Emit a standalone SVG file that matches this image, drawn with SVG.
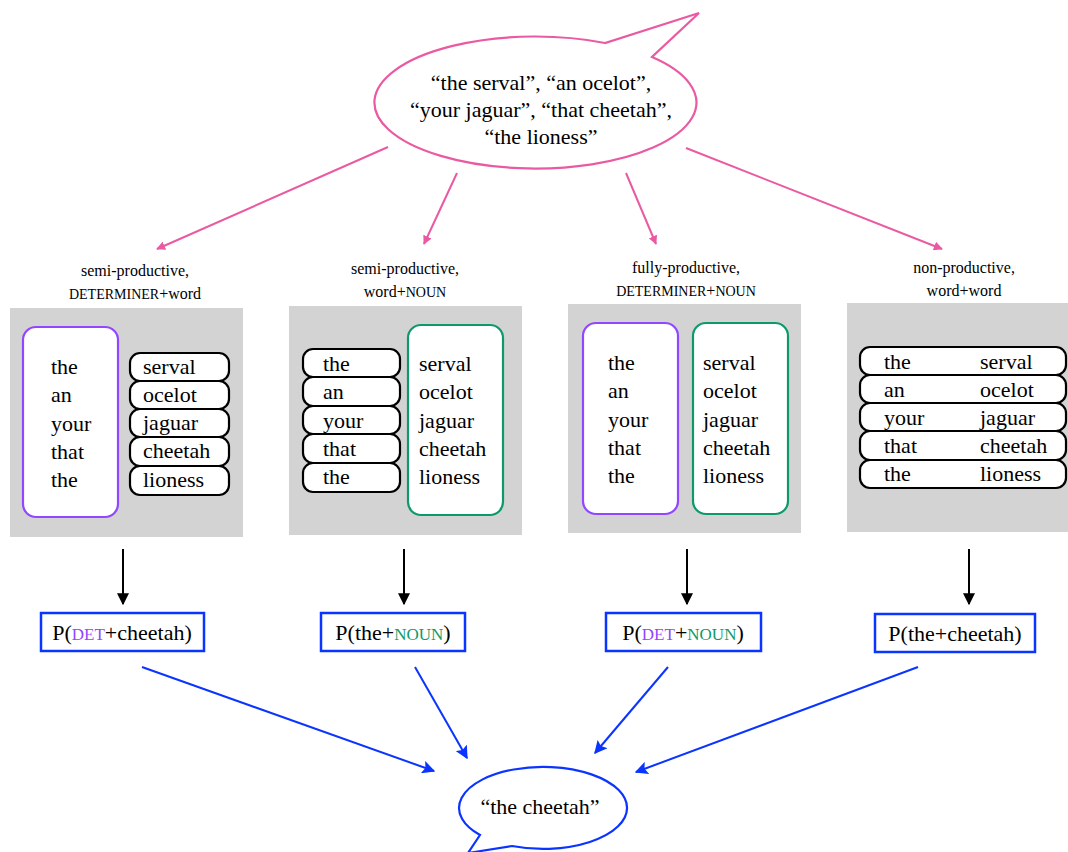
<svg xmlns="http://www.w3.org/2000/svg" width="1068" height="852" viewBox="0 0 1068 852" font-family="'Liberation Serif', 'DejaVu Serif', serif">
<style>
text{font-family:"Liberation Serif","DejaVu Serif",serif;fill:#000}
.t{font-size:22px}
.h{font-size:16px;text-anchor:middle}
.sc{font-size:14px}
.psc{font-size:17px}
.panel{fill:#d3d3d3}
.pill{fill:#fff;stroke:#000;stroke-width:2.2}
.pbox{fill:#fff;stroke:#9146ff;stroke-width:2.2}
.gbox{fill:#fff;stroke:#0e9a68;stroke-width:2.2}
.bbox{fill:#fff;stroke:#0a34ff;stroke-width:2.5}
.pink{stroke:#ea5aa2;stroke-width:2;fill:none}
.blk{stroke:#000;stroke-width:2;fill:none}
.blu{stroke:#0a34ff;stroke-width:2;fill:none}
</style>
<defs>
<marker id="ap" viewBox="0 0 10 10" refX="9" refY="5" markerWidth="9" markerHeight="9" orient="auto" markerUnits="userSpaceOnUse"><path d="M0,0 L10,5 L0,10 Z" fill="#ea5aa2"/></marker>
<marker id="ak" viewBox="0 0 10 10" refX="9" refY="5" markerWidth="12" markerHeight="12" orient="auto" markerUnits="userSpaceOnUse"><path d="M0,0 L10,5 L0,10 Z" fill="#000"/></marker>
<marker id="ab" viewBox="0 0 10 10" refX="9" refY="5" markerWidth="13" markerHeight="13" orient="auto" markerUnits="userSpaceOnUse"><path d="M0,0 L10,5 L0,10 L2,5 Z" fill="#0a34ff"/></marker>
</defs>
<rect width="1068" height="852" fill="#fff"/>

<g id="source">
<path d="M605,43 A161,66 0 1 0 652,57 L699,13 Z" fill="#fff" stroke="#ea5aa2" stroke-width="2.2" stroke-linejoin="miter"/>
<text class="t" x="541" y="90" text-anchor="middle">“the serval”, “an ocelot”,</text>
<text class="t" x="541" y="117" text-anchor="middle">“your jaguar”, “that cheetah”,</text>
<text class="t" x="541" y="144" text-anchor="middle">“the lioness”</text>
</g>

<g id="connectors">
<line class="pink" x1="388" y1="147" x2="157" y2="249" marker-end="url(#ap)"/>
<line class="pink" x1="457" y1="173" x2="424" y2="244" marker-end="url(#ap)"/>
<line class="pink" x1="626" y1="173" x2="656" y2="244" marker-end="url(#ap)"/>
<line class="pink" x1="686" y1="148" x2="942" y2="249" marker-end="url(#ap)"/>
<line class="blk" x1="123" y1="549" x2="123" y2="604" marker-end="url(#ak)"/>
<line class="blk" x1="404" y1="549" x2="404" y2="604" marker-end="url(#ak)"/>
<line class="blk" x1="687" y1="549" x2="687" y2="604" marker-end="url(#ak)"/>
<line class="blk" x1="969" y1="549" x2="969" y2="604" marker-end="url(#ak)"/>
<line class="blu" x1="142" y1="667" x2="434" y2="771" marker-end="url(#ab)"/>
<line class="blu" x1="415" y1="667" x2="467" y2="758" marker-end="url(#ab)"/>
<line class="blu" x1="668" y1="667" x2="595" y2="753" marker-end="url(#ab)"/>
<line class="blu" x1="918" y1="667" x2="636" y2="772" marker-end="url(#ab)"/>
</g>

<g id="model1">
<text class="h" x="135" y="276">semi-productive,</text>
<text class="h" x="135" y="299"><tspan class="sc">DETERMINER</tspan>+word</text>
<rect class="panel" x="10" y="308" width="233" height="229"/>
<rect class="pbox" x="23" y="327" width="95" height="190" rx="13"/>
<text class="t" x="51" y="374">the</text>
<text class="t" x="51" y="402">an</text>
<text class="t" x="51" y="431">your</text>
<text class="t" x="51" y="459">that</text>
<text class="t" x="51" y="487">the</text>
<rect class="pill" x="130" y="353" width="99" height="28" rx="10"/>
<rect class="pill" x="130" y="381" width="99" height="28" rx="10"/>
<rect class="pill" x="130" y="409" width="99" height="28" rx="10"/>
<rect class="pill" x="130" y="437" width="99" height="29" rx="10"/>
<rect class="pill" x="130" y="466" width="99" height="29" rx="10"/>
<text class="t" x="143" y="374">serval</text>
<text class="t" x="143" y="402">ocelot</text>
<text class="t" x="143" y="430">jaguar</text>
<text class="t" x="143" y="458">cheetah</text>
<text class="t" x="143" y="487">lioness</text>
</g>

<g id="model2">
<text class="h" x="405" y="274">semi-productive,</text>
<text class="h" x="405" y="297">word+<tspan class="sc">NOUN</tspan></text>
<rect class="panel" x="289" y="306" width="233" height="229"/>
<rect class="pill" x="303" y="349" width="97" height="28" rx="10"/>
<rect class="pill" x="303" y="377" width="97" height="29" rx="10"/>
<rect class="pill" x="303" y="406" width="97" height="28" rx="10"/>
<rect class="pill" x="303" y="434" width="97" height="29" rx="10"/>
<rect class="pill" x="303" y="463" width="97" height="29" rx="10"/>
<text class="t" x="323" y="371">the</text>
<text class="t" x="323" y="399">an</text>
<text class="t" x="323" y="428">your</text>
<text class="t" x="323" y="456">that</text>
<text class="t" x="323" y="484">the</text>
<rect class="gbox" x="408" y="325" width="95" height="190" rx="13"/>
<text class="t" x="419" y="371">serval</text>
<text class="t" x="419" y="399">ocelot</text>
<text class="t" x="419" y="428">jaguar</text>
<text class="t" x="419" y="456">cheetah</text>
<text class="t" x="419" y="484">lioness</text>
</g>

<g id="model3">
<text class="h" x="686" y="273">fully-productive,</text>
<text class="h" x="686" y="296"><tspan class="sc">DETERMINER</tspan>+<tspan class="sc">NOUN</tspan></text>
<rect class="panel" x="568" y="304" width="233" height="229"/>
<rect class="pbox" x="583" y="323" width="95" height="191" rx="13"/>
<text class="t" x="608" y="370">the</text>
<text class="t" x="608" y="398">an</text>
<text class="t" x="608" y="427">your</text>
<text class="t" x="608" y="455">that</text>
<text class="t" x="608" y="483">the</text>
<rect class="gbox" x="693" y="323" width="95" height="191" rx="13"/>
<text class="t" x="703" y="370">serval</text>
<text class="t" x="703" y="398">ocelot</text>
<text class="t" x="703" y="427">jaguar</text>
<text class="t" x="703" y="455">cheetah</text>
<text class="t" x="703" y="483">lioness</text>
</g>

<g id="model4">
<text class="h" x="964" y="273">non-productive,</text>
<text class="h" x="964" y="296">word+word</text>
<rect class="panel" x="847" y="303" width="233" height="229"/>
<rect class="pill" x="860" y="347" width="206" height="28" rx="10"/>
<rect class="pill" x="860" y="375" width="206" height="28" rx="10"/>
<rect class="pill" x="860" y="403" width="206" height="28" rx="10"/>
<rect class="pill" x="860" y="431" width="206" height="29" rx="10"/>
<rect class="pill" x="860" y="460" width="206" height="28" rx="10"/>
<text class="t" x="884" y="369">the</text>
<text class="t" x="884" y="397">an</text>
<text class="t" x="884" y="425">your</text>
<text class="t" x="884" y="453">that</text>
<text class="t" x="884" y="481">the</text>
<text class="t" x="980" y="369">serval</text>
<text class="t" x="980" y="397">ocelot</text>
<text class="t" x="980" y="425">jaguar</text>
<text class="t" x="980" y="453">cheetah</text>
<text class="t" x="980" y="481">lioness</text>
</g>

<g id="p1">
<rect class="bbox" x="41" y="613" width="163" height="38"/>
<text class="t" x="122" y="640" text-anchor="middle">P(<tspan class="psc" fill="#9146ff">DET</tspan>+cheetah)</text>
</g>
<g id="p2">
<rect class="bbox" x="321" y="613" width="144" height="38"/>
<text class="t" x="393" y="640" text-anchor="middle">P(the+<tspan class="psc" fill="#0e9a68">NOUN</tspan>)</text>
</g>
<g id="p3">
<rect class="bbox" x="606" y="613" width="155" height="38"/>
<text class="t" x="683" y="640" text-anchor="middle">P(<tspan class="psc" fill="#9146ff">DET</tspan>+<tspan class="psc" fill="#0e9a68">NOUN</tspan>)</text>
</g>
<g id="p4">
<rect class="bbox" x="875" y="614" width="160" height="38"/>
<text class="t" x="955" y="641" text-anchor="middle">P(the+cheetah)</text>
</g>

<g id="result">
<path d="M480,835 A84,41 0 1 1 512,846 L468,853 Z" fill="#fff" stroke="#0a34ff" stroke-width="2.2"/>
<text class="t" x="540" y="814" text-anchor="middle">“the cheetah”</text>
</g>
</svg>
